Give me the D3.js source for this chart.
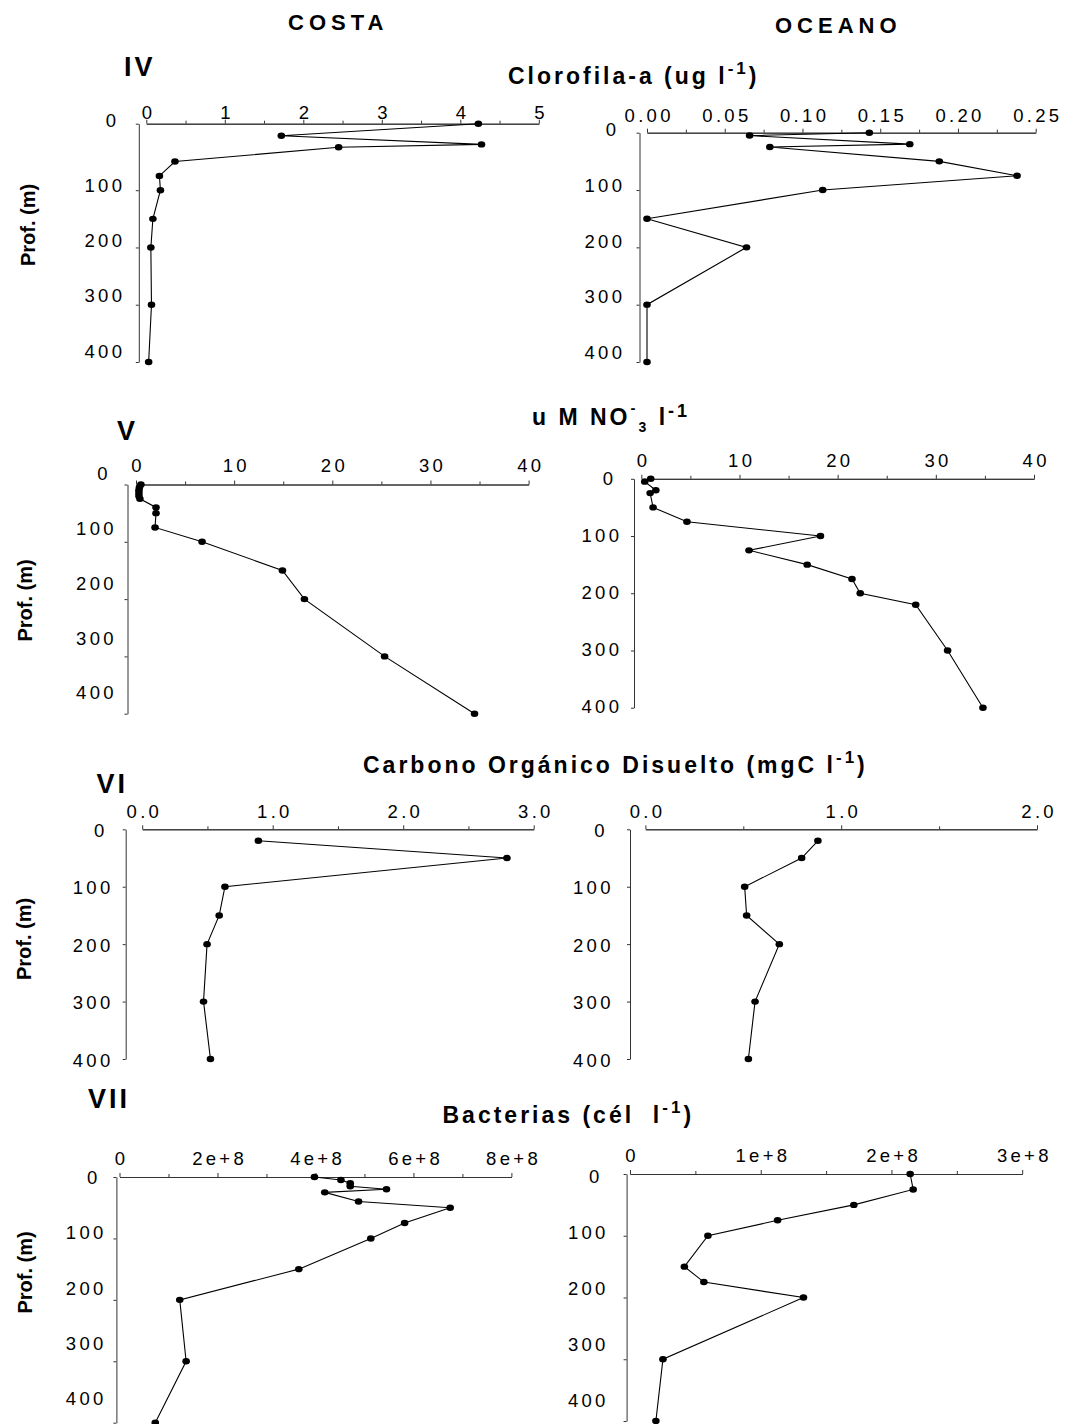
<!DOCTYPE html>
<html>
<head>
<meta charset="utf-8">
<script src="https://cdn.jsdelivr.net/npm/d3@7"></script>
<style>
  body { margin: 0; background: #fff; }
  text { font-family: "Liberation Sans", Arial, sans-serif; fill: #000; }
  .tick-lab { font-size: 18.5px; letter-spacing: 3.3px; }
  .big { font-size: 22px; font-weight: bold; letter-spacing: 5px; }
  .roman { font-size: 27px; font-weight: bold; letter-spacing: 3px; }
  .ttl { font-size: 23px; font-weight: bold; letter-spacing: 3px; white-space: pre; }
  .ylab { font-size: 20px; font-weight: bold; }
</style>
</head>
<body>
<svg id="fig" width="1066" height="1424"></svg>
<script>

/*********** DONNEES ***********/

// IV - Clorofila-a (ug l-1)
const chlDepthCosta = [0, 5, 20, 25, 50, 75, 100, 150, 200, 300, 400]
const chlCosta = [4.23, 1.72, 4.27, 2.45, 0.365, 0.167, 0.18, 0.084, 0.058, 0.066, 0.03]
const chlDepthOceano = [0, 5, 20, 25, 50, 75, 100, 150, 200, 300, 400]
const chlOceano = [0.143, 0.066, 0.169, 0.079, 0.188, 0.238, 0.113, 0.0, 0.064, 0.0, 0.0]

// V - uM NO3 l-1
const no3DepthCosta = [0, 5, 10, 15, 20, 25, 40, 50, 75, 100, 150, 200, 300, 400]
const no3Costa = [0.5, 0.35, 0.3, 0.3, 0.3, 0.4, 2.04, 2.04, 1.94, 6.73, 14.92, 17.16, 25.33, 34.49]
const no3DepthOceano = [0, 5, 20, 25, 50, 75, 100, 125, 150, 175, 200, 220, 300, 400]
const no3Oceano = [0.96, 0.35, 1.48, 0.9, 1.2, 4.65, 18.25, 10.97, 16.9, 21.46, 22.3, 27.95, 31.2, 34.8]

// VI - Carbono Organico Disuelto (mgC l-1)
const docDepthCosta = [20, 50, 100, 150, 200, 300, 400]
const docCosta = [0.89, 2.795, 0.634, 0.59, 0.497, 0.47, 0.523]
const docDepthOceano = [20, 50, 100, 150, 200, 300, 400]
const docOceano = [0.881, 0.798, 0.507, 0.517, 0.684, 0.56, 0.526]

// VII - Bacterias (cel l-1)
const bacDepthCosta = [0, 5, 10, 15, 20, 25, 40, 50, 75, 100, 150, 200, 300, 400]
const bacCosta = [3.98e8, 4.52e8, 4.71e8, 4.71e8, 5.45e8, 4.19e8, 4.88e8, 6.75e8, 5.82e8, 5.13e8, 3.66e8, 1.23e8, 1.36e8, 0.73e8]
const bacDepthOceano = [0, 25, 50, 75, 100, 150, 175, 200, 300, 400]
const bacOceano = [2.143e8, 2.166e8, 1.712e8, 1.129e8, 0.596e8, 0.416e8, 0.565e8, 1.327e8, 0.252e8, 0.198e8]

// profondeurs (axe vertical)
const depthTicks = [0, 100, 200, 300, 400]


/*********** MISE EN PAGE ***********/

let fmtInt = d => String(d)
let fmtSci = d => d === 0 ? "0" : (d / 1e8) + "e+8"

// une entree par graphique : donnees + position sur la page
let panels = [
    { d: chlDepthCosta, v: chlCosta, dom: [0, 5], step: 1, minor: 0.5, fmt: fmtInt,
      x0: 146.3, x1: 538.8, ydom: [0, 5, 400], yr: [123.7, 135.8, 362], ax: 138.8, xlab: 119.3, ylx: 122, ya: -3, yb: -8 },
    { d: chlDepthOceano, v: chlOceano, dom: [0, 0.25], step: 0.05, minor: 0.025, fmt: d3.format(".2f"),
      x0: 647, x1: 1035.7, ydom: [0, 400], yr: [132.7, 362], ax: 639.5, xlab: 121.5, ylx: 622, ya: -3, yb: -7 },
    { d: no3DepthCosta, v: no3Costa, dom: [0, 40], step: 10, minor: 5, fmt: fmtInt,
      x0: 136, x1: 528.6, ydom: [0, 400], yr: [484.5, 713.7], ax: 127.5, xlab: 471.5, ylx: 113.6, ya: -11, yb: -10 },
    { d: no3DepthOceano, v: no3Oceano, dom: [0, 40], step: 10, minor: 5, fmt: fmtInt,
      x0: 641.3, x1: 1034, ydom: [0, 400], yr: [478.8, 707.7], ax: 634, xlab: 466.7, ylx: 619, ya: 0, yb: -1 },
    { d: docDepthCosta, v: docCosta, dom: [0, 3], step: 1, minor: 0.5, fmt: d3.format(".1f"),
      x0: 142.2, x1: 533.7, ydom: [0, 400], yr: [829.3, 1059], ax: 125.7, xlab: 818.3, ylx: 110.2, ya: 1, yb: 0 },
    { d: docDepthOceano, v: docOceano, dom: [0, 2], step: 1, minor: 0.5, fmt: d3.format(".1f"),
      x0: 645.4, x1: 1037, ydom: [0, 400], yr: [829.3, 1059], ax: 630, xlab: 818.3, ylx: 610.5, ya: 1, yb: 0 },
    { d: bacDepthCosta, v: bacCosta, dom: [0, 8e8], step: 2e8, minor: 1e8, fmt: fmtSci,
      x0: 119.5, x1: 511.4, ydom: [0, 400], yr: [1177, 1422.7], ax: 116.4, xlab: 1165, ylx: 103.3, ya: 0, yb: -24 },
    { d: bacDepthOceano, v: bacOceano, dom: [0, 3e8], step: 1e8, minor: 5e7, fmt: fmtSci,
      x0: 630, x1: 1022.2, ydom: [0, 400], yr: [1174, 1421], ax: 626.6, xlab: 1161.7, ylx: 605.4, ya: 2, yb: -23 }
]


/*********** GRAPHIQUES ***********/

let svg = d3.select("#fig")

function drawPanel(p) {
    let g = svg.append("g")

    let x = d3.scaleLinear().domain(p.dom).range([p.x0, p.x1])
    let y = d3.scaleLinear().domain(p.ydom).range(p.yr)
    let top = p.yr[0]

    let major = d3.range(p.dom[0], p.dom[1] + p.step / 2, p.step)
    let minor = d3.range(p.minor, p.dom[1], p.step)

    // axe X en haut
    g.append("g")
        .attr("transform", "translate(0," + top + ")")
        .attr("color", "#333")
        .call(d3.axisTop(x).tickValues(minor).tickSize(3).tickSizeOuter(0).tickFormat(""))
    let xa = g.append("g")
        .attr("transform", "translate(0," + top + ")")
        .attr("color", "#333")
        .call(d3.axisTop(x).tickValues(major).tickSize(4).tickSizeOuter(0).tickFormat(p.fmt))
    xa.selectAll("text")
        .attr("class", "tick-lab")
        .attr("y", p.xlab - top)
        .attr("dy", null)
        .attr("dx", 1.65)

    // axe Y (profondeur)
    let ya = g.append("g")
        .attr("transform", "translate(" + p.ax + ",0)")
        .attr("color", "#333")
        .call(d3.axisLeft(y).tickValues(depthTicks).tickSize(3).tickSizeOuter(0).tickFormat(""))
    ya.selectAll("text").remove()

    g.selectAll(".dlab")
        .data(depthTicks)
        .enter()
        .append("text")
        .attr("class", "tick-lab")
        .attr("text-anchor", "end")
        .attr("x", d => p.ylx + 3.3 + (d === 0 ? -6 : 0))
        .attr("y", d => y(d) + p.ya + p.yb * d / 400)
        .attr("dy", "0.36em")
        .text(d => d)

    // profil
    let pts = p.d.map((dep, i) => ({ dep: dep, val: p.v[i] }))
    let line = d3.line().x(d => x(d.val)).y(d => y(d.dep))

    g.append("path")
        .datum(pts)
        .attr("fill", "none")
        .attr("stroke", "#000")
        .attr("stroke-width", 1.1)
        .attr("d", line)

    g.selectAll(".pt")
        .data(pts)
        .enter()
        .append("ellipse")
        .attr("cx", d => x(d.val))
        .attr("cy", d => y(d.dep))
        .attr("rx", 3.8)
        .attr("ry", 3.2)
        .attr("fill", "#000")
}

for (const p of panels) {
    drawPanel(p)
}


/*********** TEXTES ***********/

function addText(x, y, cls, parts) {
    let t = svg.append("text").attr("x", x).attr("y", y).attr("class", cls)
    for (const part of parts) {
        let s = t.append("tspan").text(part.t)
        if (part.dy) s.attr("dy", part.dy)
        if (part.fs) s.attr("font-size", part.fs)
    }
    return t
}

addText(288, 29.5, "big", [{ t: "COSTA" }])
addText(775, 32.5, "big", [{ t: "OCEANO" }])

addText(124, 76, "roman", [{ t: "IV" }])
addText(117, 440, "roman", [{ t: "V" }])
addText(96.5, 793, "roman", [{ t: "VI" }])
addText(88, 1108, "roman", [{ t: "VII" }])

addText(508, 84, "ttl", [{ t: "Clorofila-a (ug l" }, { t: "-1", dy: -10, fs: 17 }, { t: ")", dy: 10 }])
addText(532, 425, "ttl", [{ t: "u M NO" }, { t: "-", dy: -12, fs: 15 }, { t: "3", dy: 19, fs: 14 },
    { t: " l", dy: -7 }, { t: "-1", dy: -8, fs: 18 }])
addText(363, 773, "ttl", [{ t: "Carbono Orgánico Disuelto (mgC l" }, { t: "-1", dy: -10, fs: 17 }, { t: ")", dy: 10 }])
addText(442.5, 1123, "ttl", [{ t: "Bacterias (cél  l" }, { t: "-1", dy: -10, fs: 17 }, { t: ")", dy: 10 }])

let profPos = [[35, 225], [31.5, 600.5], [30.5, 939], [32, 1272.5]]
for (const pp of profPos) {
    svg.append("text")
        .attr("class", "ylab")
        .attr("text-anchor", "middle")
        .attr("transform", "translate(" + pp[0] + "," + pp[1] + ") rotate(-90)")
        .text("Prof. (m)")
}
</script>
</body>
</html>
